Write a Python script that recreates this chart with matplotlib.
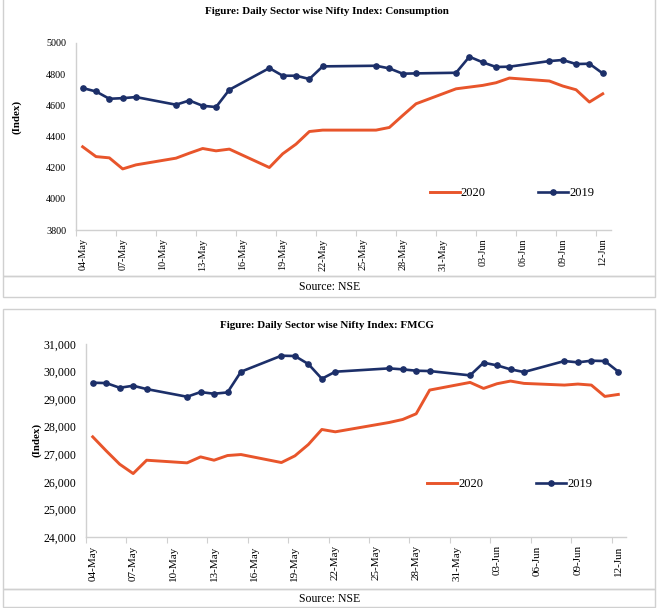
import pandas as pd
import matplotlib
matplotlib.use('Agg')
import matplotlib.pyplot as plt
import matplotlib.dates as mdates
from matplotlib.patches import Rectangle
from matplotlib.ticker import FuncFormatter

# trading days (2020 calendar, both years drawn on it)
dates = ['2020-05-04', '2020-05-05', '2020-05-06', '2020-05-07', '2020-05-08',
         '2020-05-11', '2020-05-12', '2020-05-13', '2020-05-14', '2020-05-15',
         '2020-05-18', '2020-05-19', '2020-05-20', '2020-05-21', '2020-05-22',
         '2020-05-26', '2020-05-27', '2020-05-28', '2020-05-29',
         '2020-06-01', '2020-06-02', '2020-06-03', '2020-06-04', '2020-06-05',
         '2020-06-08', '2020-06-09', '2020-06-10', '2020-06-11', '2020-06-12']

cons_2020 = [4334, 4271, 4263, 4192, 4218, 4261, 4293, 4323, 4308, 4319,
             4201, 4289, 4351, 4432, 4441, 4441, 4458, 4535, 4610,
             4706, 4717, 4728, 4745, 4775, 4756, 4724, 4700, 4621, 4674]
cons_2019 = [4711, 4689, 4642, 4646, 4653, 4604, 4631, 4597, 4589, 4700,
             4839, 4790, 4790, 4769, 4850, 4854, 4837, 4803, 4805,
             4809, 4912, 4876, 4846, 4848, 4884, 4891, 4865, 4867, 4805]

fmcg_2020 = [27633, 27125, 26640, 26301, 26785, 26689, 26906, 26785, 26955, 26991,
             26701, 26943, 27355, 27900, 27815, 28154, 28263, 28469, 29329,
             29607, 29389, 29559, 29656, 29571, 29510, 29547, 29510, 29099, 29171]
fmcg_2019 = [29595, 29583, 29413, 29486, 29365, 29087, 29256, 29196, 29244, 29995,
             30576, 30564, 30273, 29740, 29995, 30116, 30080, 30031, 30019,
             29862, 30322, 30225, 30080, 29983, 30382, 30334, 30394, 30382, 29995]

titles = ['Figure: Daily Sector wise Nifty Index: Consumption',
          'Figure: Daily Sector wise Nifty Index: FMCG']
source = 'Source: NSE'

ORANGE = '#E8552B'
NAVY = '#1C2F69'
GREY = '#D0D0D0'
W, H = 661, 608

plt.rcParams['font.family'] = ['Liberation Serif', 'DejaVu Serif']

fig = plt.figure(figsize=(W / 100, H / 100), dpi=100)


def fx(x):
    return x / W


def fy(y):
    return 1 - y / H


def box(x0, y0, x1, y1):
    fig.patches.append(Rectangle((fx(x0), fy(y1)), fx(x1) - fx(x0), fy(y0) - fy(y1),
                                 transform=fig.transFigure, fill=False,
                                 edgecolor=GREY, lw=1.0))


x = pd.to_datetime(dates)
first, last = x[0], x[-1]
tick_days = pd.date_range(first, last, freq='3D')

panels = [
    dict(rect=(76, 43, 611, 230), y20=cons_2020, y19=cons_2019,
         ylim=(3800, 5000), yticks=range(3800, 5001, 200), comma=False,
         tick_fs=7.3, xtick_fs=7.3, xpad=(0.37, 0.62), leg=(0.815, 0.198),
         title_y=12, ylab=(17, 117), box=(3, -5, 655, 276), src=(276, 297, 287)),
    dict(rect=(86, 344, 626, 537), y20=fmcg_2020, y19=fmcg_2019,
         ylim=(24000, 31000), yticks=range(24000, 31001, 1000), comma=True,
         tick_fs=8.6, xtick_fs=8.0, xpad=(0.42, 0.57), leg=(0.785, 0.275),
         title_y=325, ylab=(37, 440), box=(3, 309, 655, 589), src=(589, 607, 599)),
]

for i, p in enumerate(panels):
    l, t, r, b = p['rect']
    ax = fig.add_axes([fx(l), fy(b), fx(r) - fx(l), fy(t) - fy(b)])
    ax.plot(x, p['y20'], color=ORANGE, lw=2.1, label='2020')
    ax.plot(x, p['y19'], color=NAVY, lw=1.9, marker='o', ms=3.8, label='2019')

    ax.set_ylim(*p['ylim'])
    ax.set_yticks(list(p['yticks']))
    if p['comma']:
        ax.yaxis.set_major_formatter(FuncFormatter(lambda v, pos: f'{int(v):,}'))
    ax.set_xlim(first - pd.Timedelta(days=p['xpad'][0]), last + pd.Timedelta(days=p['xpad'][1]))
    ax.set_xticks(tick_days)
    ax.xaxis.set_major_formatter(mdates.DateFormatter('%d-%b'))
    ax.set_xticks(tick_days - pd.Timedelta(hours=12), minor=True)
    ax.tick_params(axis='x', which='major', length=0, pad=6, labelsize=p['xtick_fs'], rotation=90)
    ax.tick_params(axis='x', which='minor', length=4, color=GREY, width=0.8)
    ax.tick_params(axis='y', length=0, pad=7, labelsize=p['tick_fs'])
    for s in ['top', 'right']:
        ax.spines[s].set_visible(False)
    for s in ['left', 'bottom']:
        ax.spines[s].set_color(GREY)
        ax.spines[s].set_linewidth(1.0)

    ax.legend(loc='center', bbox_to_anchor=p['leg'], ncol=2, frameon=False,
              fontsize=9, handlelength=2.4, columnspacing=4.2, handletextpad=0.1)

    fig.text(fx(327), fy(p['title_y']), titles[i], ha='center', va='center',
             fontsize=7.9, fontweight='bold')
    fig.text(fx(p['ylab'][0]), fy(p['ylab'][1]), '(Index)', ha='center', va='center',
             rotation=90, fontsize=7.8, fontweight='bold')

    bx0, by0, bx1, by1 = p['box']
    box(bx0, by0, bx1, by1)
    s0, s1, sy = p['src']
    box(bx0, s0, bx1, s1)
    fig.text(fx(330), fy(sy), source, ha='center', va='center', fontsize=8.5)

fig.savefig('out.png', dpi=100)
